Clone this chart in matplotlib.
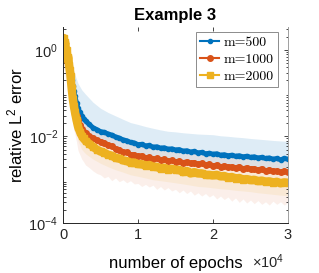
import matplotlib
matplotlib.use("Agg")
import matplotlib.pyplot as plt
import numpy as np
from matplotlib.lines import Line2D
from matplotlib.font_manager import FontProperties
from matplotlib.ticker import LogLocator, NullFormatter

plt.rcParams['font.family'] = ['Liberation Sans', 'DejaVu Sans']
plt.rcParams['mathtext.fontset'] = 'custom'
plt.rcParams['mathtext.rm'] = 'Liberation Sans'
plt.rcParams['mathtext.it'] = 'Liberation Sans:italic'
plt.rcParams['mathtext.bf'] = 'Liberation Sans:bold'

# epochs where the curves are sampled
epochs = [0, 100, 200, 300, 400, 500, 600, 700, 800, 900, 1000, 1150, 1300, 1450, 1600,
          1800, 2000, 2250, 2500, 2750, 3000, 3500, 4000, 4500, 5000] + list(range(5500, 30001, 500))

err_500 = [1.3, 1.5, 1.0, 1.2, 0.7, 0.8, 0.55, 0.5, 0.4, 0.33, 0.27, 0.2, 0.15, 0.11, 0.085,
           0.06, 0.045, 0.036, 0.03, 0.026, 0.023, 0.019, 0.016, 0.0145, 0.013,
           0.0125, 0.0115, 0.0108, 0.0098, 0.0092, 0.0084, 0.0080, 0.0073, 0.0071, 0.0065,
           0.0066, 0.0061, 0.0062, 0.0057, 0.0058, 0.0054, 0.0055, 0.0051, 0.0052, 0.0049,
           0.0050, 0.0046, 0.0047, 0.0044, 0.0045, 0.0042, 0.0043, 0.0040, 0.0041, 0.0039,
           0.0040, 0.0037, 0.0038, 0.0036, 0.0037, 0.0035, 0.0036, 0.0034, 0.0035, 0.0033,
           0.0034, 0.0032, 0.0033, 0.0031, 0.0032, 0.0030, 0.0031, 0.0029, 0.0031, 0.0030]

err_1000 = [1.2, 1.7, 0.9, 1.3, 0.6, 0.9, 0.5, 0.55, 0.38, 0.3, 0.22, 0.12, 0.08, 0.055, 0.04,
            0.03, 0.024, 0.018, 0.015, 0.013, 0.0118, 0.0103, 0.009, 0.0082, 0.0076,
            0.0072, 0.0064, 0.0060, 0.0052, 0.0050, 0.0044, 0.0043, 0.0038, 0.0038, 0.0035,
            0.0036, 0.0032, 0.0033, 0.0030, 0.0031, 0.0028, 0.0030, 0.0027, 0.0028, 0.0026,
            0.0027, 0.0025, 0.0026, 0.0024, 0.0025, 0.0023, 0.0024, 0.0022, 0.0023, 0.0021,
            0.0022, 0.0020, 0.0021, 0.0020, 0.0020, 0.0019, 0.0020, 0.0018, 0.0019, 0.0018,
            0.0018, 0.0017, 0.0018, 0.0016, 0.0017, 0.0016, 0.0016, 0.0015, 0.0016, 0.0015]

err_2000 = [1.6, 1.9, 1.1, 1.5, 0.8, 1.0, 0.6, 0.7, 0.45, 0.35, 0.25, 0.13, 0.075, 0.05, 0.036,
            0.024, 0.017, 0.013, 0.0105, 0.009, 0.008, 0.0068, 0.0058, 0.005, 0.0045,
            0.0042, 0.0038, 0.0036, 0.0032, 0.0031, 0.0028, 0.0027, 0.0025, 0.0025, 0.0023,
            0.0023, 0.0021, 0.0022, 0.0020, 0.0020, 0.0018, 0.0019, 0.0017, 0.0018, 0.0017,
            0.0017, 0.0015, 0.0016, 0.0014, 0.0015, 0.0014, 0.0014, 0.0013, 0.0013, 0.00126,
            0.0013, 0.0012, 0.00122, 0.00112, 0.00116, 0.00106, 0.0011, 0.0010, 0.00104, 0.00098,
            0.0010, 0.00093, 0.00096, 0.0009, 0.00092, 0.00086, 0.0009, 0.00083, 0.00087, 0.00085]

# spiky lower edge of the m=1000 spread
low_1000 = [0.4, 0.35, 0.3, 0.25, 0.2, 0.17, 0.14, 0.12, 0.09, 0.07, 0.05, 0.03, 0.02, 0.014, 0.011,
            0.0075, 0.0048, 0.0038, 0.003, 0.0026, 0.0022, 0.0019, 0.0016, 0.0014, 0.0013,
            0.0011, 0.0012, 0.00095, 0.0011, 0.0009, 0.001, 0.00085, 0.00095, 0.0008, 0.00082,
            0.0007, 0.00078, 0.00068, 0.00075, 0.0006, 0.0007, 0.00058, 0.00066, 0.00055, 0.0006,
            0.0005, 0.00058, 0.00048, 0.00055, 0.00044, 0.0005, 0.00042, 0.00048, 0.0004, 0.00045,
            0.00036, 0.00042, 0.00035, 0.0004, 0.00032, 0.00038, 0.0003, 0.00036, 0.00029, 0.00034,
            0.00028, 0.00033, 0.00027, 0.00031, 0.00026, 0.00032, 0.00027, 0.00031, 0.00026, 0.0003]

# min/max spread of the runs
band_epochs = [0, 300, 600, 1000, 1500, 2000, 2500, 3000, 4000] + list(range(5000, 30001, 1000))

hi_500 = [2.5, 2.0, 1.2, 0.6, 0.3, 0.17, 0.12, 0.095, 0.062, 0.045, 0.036, 0.03, 0.025, 0.021,
          0.019, 0.017, 0.0155, 0.0142, 0.0132, 0.0128, 0.0122, 0.0118, 0.0114, 0.0112, 0.011,
          0.0104, 0.0101, 0.0097, 0.0094, 0.009, 0.0087, 0.0084, 0.0081, 0.0079, 0.0077]
lo_500 = [0.6, 0.5, 0.35, 0.18, 0.06, 0.026, 0.017, 0.013, 0.0095, 0.008, 0.0066, 0.0055, 0.0046,
          0.004, 0.0037, 0.0034, 0.0032, 0.003, 0.0029, 0.0028, 0.0027, 0.0026, 0.0025, 0.0024,
          0.0023, 0.0022, 0.0022, 0.0021, 0.002, 0.002, 0.0019, 0.0018, 0.0018, 0.0017, 0.0017]
hi_2000 = [2.0, 1.4, 0.8, 0.3, 0.08, 0.03, 0.019, 0.014, 0.0105, 0.0085, 0.007, 0.0058, 0.0049,
           0.0042, 0.0038, 0.0035, 0.0033, 0.0031, 0.0029, 0.0028, 0.0027, 0.0026, 0.0025, 0.0024,
           0.0023, 0.0022, 0.0021, 0.0021, 0.002, 0.0019, 0.0019, 0.0018, 0.0018, 0.0017, 0.0017]
lo_2000 = [0.5, 0.3, 0.15, 0.07, 0.02, 0.008, 0.005, 0.004, 0.003, 0.0024, 0.002, 0.0017, 0.0015,
           0.0013, 0.0012, 0.0011, 0.001, 0.00095, 0.0009, 0.00085, 0.0008, 0.00075, 0.0007,
           0.00068, 0.00065, 0.00062, 0.0006, 0.00057, 0.00055, 0.00053, 0.0005, 0.00048,
           0.00046, 0.00044, 0.00043]

labels = ['m=500', 'm=1000', 'm=2000']
c_blue, c_orange, c_yellow = '#0072BD', '#D95319', '#EDB120'

fig = plt.figure(figsize=(3.19, 2.73), dpi=100)
ax = fig.add_axes([63 / 319, 50 / 273, 225 / 319, 196 / 273])

ax.fill_between(band_epochs, lo_500, hi_500, color=c_blue, alpha=0.13, lw=0)
ax.fill_between(epochs, low_1000, [max(a, b) for a, b in zip(err_500, err_1000)],
                color=c_orange, alpha=0.09, lw=0)
ax.fill_between(band_epochs, lo_2000, hi_2000, color=c_yellow, alpha=0.10, lw=0)

ax.plot(epochs, err_500, color=c_blue, lw=3.5, marker='.', ms=6)
ax.plot(epochs, err_1000, color=c_orange, lw=3.5, marker='o', ms=4)
ax.plot(epochs, err_2000, color=c_yellow, lw=6, marker='s', ms=4)

ax.set_yscale('log')
ax.set_xlim(0, 30000)
ax.set_ylim(1e-4, 3.4)
ax.set_xticks([0, 10000, 20000, 30000])
ax.set_xticklabels(['0', '1', '2', '3'])
ax.set_yticks([1e-4, 1e-2, 1e0])
ax.yaxis.set_minor_locator(LogLocator(base=10, subs=np.arange(2, 10), numticks=20))
ax.yaxis.set_minor_formatter(NullFormatter())
ax.tick_params(which='both', direction='in', top=True, right=True, labelsize=10.5,
               colors='#262626', width=0.6)
ax.tick_params(which='major', length=3)
ax.tick_params(which='minor', length=1.8)
ax.spines['top'].set_visible(False)
ax.spines['right'].set_color('#a0a0a0')
ax.spines['left'].set_color('#262626')
ax.spines['bottom'].set_color('#262626')
for s in ax.spines.values():
    s.set_linewidth(0.7)

ax.set_title('Example 3', fontsize=12, fontweight='bold', pad=5)
ax.set_xlabel('number of epochs', fontsize=12, labelpad=10)
ax.set_ylabel(r'relative L$^2$ error', fontsize=12, labelpad=2)
fig.text(252 / 319, 1 - 262 / 273, r'$\times10^4$', fontsize=10.5, ha='left', va='center',
         color='#262626')

handles = [Line2D([], [], color=c_blue, lw=1.5, marker='.', ms=6),
           Line2D([], [], color=c_orange, lw=1.5, marker='o', ms=4),
           Line2D([], [], color=c_yellow, lw=1.5, marker='s', ms=4)]
leg = ax.legend(handles, labels, loc='upper right', bbox_to_anchor=(0.955, 0.975),
                borderaxespad=0, prop=FontProperties(family='cmr10', size=10),
                handlelength=1.4, handletextpad=0.3, labelspacing=0.3, borderpad=0.3,
                fancybox=False, framealpha=1)
leg.get_frame().set_edgecolor('#8c8c8c')
leg.get_frame().set_linewidth(0.7)

fig.savefig('out.png', dpi=100)
